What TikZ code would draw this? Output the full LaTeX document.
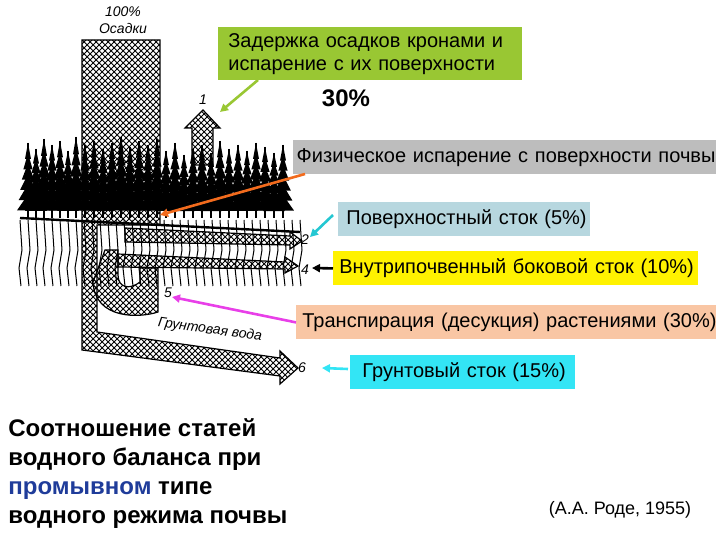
\documentclass[tikz,border=0pt]{standalone}
\usepackage{fontspec}
\setmainfont{Liberation Sans}
\usetikzlibrary{patterns,arrows.meta}
\definecolor{lgreen}{HTML}{99C733}
\definecolor{lgray}{HTML}{BDBDBD}
\definecolor{lblue}{HTML}{B7D7DF}
\definecolor{peach}{HTML}{F9C6A4}
\definecolor{cyanb}{HTML}{33E5F5}
\definecolor{orangea}{HTML}{F26B1D}
\definecolor{magentaa}{HTML}{E83FE8}
\definecolor{bluet}{HTML}{1F3C9A}
\tikzset{
 lbl/.style={font=\fontsize{10}{11.5}\selectfont, inner xsep=0pt, inner ysep=0pt, anchor=north west, align=left, minimum height=17pt},
 hatch/.style={draw=black, line width=0.6pt, pattern=crosshatch},
 pt/.style={-{Triangle[length=4pt,width=4pt]}, line width=1.3pt},
 sketch/.style={font=\itshape\fontsize{7}{7.5}\selectfont, inner sep=0pt},
}
\begin{document}
\begin{tikzpicture}[x=0.5pt,y=-0.5pt]
\useasboundingbox (0,0) rectangle (720,540);
% main hatched column and groundwater arrow
\path[hatch] (82,40)--(160,40)--(160,225)--(97,225)--(97,332)--(280,358)--(280,351)--(298,368)--(280,384)--(280,376)--(82,350)--cycle;
% arrow 1
\path[hatch] (192,165)--(192,128)--(185,128)--(203,110)--(220,128)--(213,128)--(213,165)--cycle;
% U shape 5
\path[hatch] (93,282) .. controls (95,320) and (140,318) .. (158,312) -- (158,268) -- (140,268) -- (140,282) .. controls (130,290) and (118,288) .. (118,275) -- (118,250) -- (105,250) -- cycle;
% arrow 4
\path[hatch] (118,254)--(285,262)--(285,257)--(298,266)--(285,273)--(285,269)--(118,267)--cycle;
% arrow 2
\path[hatch] (125,228)--(290,236)--(290,232)--(302,241)--(290,249)--(290,245)--(125,242)--cycle;
% roots
\foreach \x in {20,28,...,300}{
  \draw[line width=0.5pt] (\x,220) -- (\x+2,250) -- (\x-1,268) -- (\x+1,286);
}
% trees
\foreach \x/\h in {28/72,36/66,44/76,52/70,60/74,68/64,76/78,85/70,94/74,103/66,112/72,121/78,130/68,139/74,148/70,157/76,166/64,175/72,184/60,193/66,202/70,211/62,220/74,229/66,238/70,247/64,256/72,265/68,274/62,283/70}{
  \foreach \k in {0,...,5}{
    \fill (\x,215-\h+\k*\h/7) -- (\x-3-\k*1.6,215-\h+\k*\h/7+\h/4.5) -- (\x+3+\k*1.6,215-\h+\k*\h/7+\h/4.5) -- cycle;
  }
  \draw[line width=0.8pt] (\x,215-\h) -- (\x,218);
}
\draw[line width=1.2pt] (20,218) -- (300,232);
% sketch labels
\node[sketch] (p100) at (123,12) {100\%};
\node[sketch] (osad) at (123,28) {Осадки};
\node[sketch] (n1) at (203,100) {1};
\node[sketch] (n2) at (305,240) {2};
\node[sketch] (n4) at (305,270) {4};
\node[sketch] (n5) at (168,293) {5};
\node[sketch] (n6) at (302,368) {6};
\node[sketch, rotate=-8] (gv) at (210,330) {Грунтовая вода};
% label boxes
\node[lbl, fill=lgreen, text width=142pt, minimum height=26.5pt, inner xsep=5pt] (b1) at (218,27) {\mbox{Задержка осадков кронами и}\\\mbox{испарение с их поверхности}};
\node[font=\bfseries\fontsize{12}{13}\selectfont] (p30) at (346,98) {30\%};
\node[lbl, fill=lgray, text width=211.5pt] (b2) at (293,140) {\mbox{\,Физическое испарение с поверхности почвы}};
\node[lbl, fill=lblue, text width=126pt] (b3) at (338,202) {\mbox{\hspace{4pt}Поверхностный сток (5\%)}};
\node[lbl, fill=yellow, text width=182.5pt] (b4) at (333,251) {\mbox{\hspace{3pt}Внутрипочвенный боковой сток (10\%)}};
\node[lbl, fill=peach, text width=210pt] (b5) at (296,305) {\mbox{\hspace{3pt}Транспирация (десукция) растениями (30\%)}};
\node[lbl, fill=cyanb, text width=112.5pt] (b6) at (350,355) {\mbox{\hspace{6pt}Грунтовый сток (15\%)}};
% pointer arrows
\coordinate (t1) at (220,112);
\coordinate (t2) at (160,215);
\coordinate (t3) at (310,237);
\coordinate (t4) at (312,268);
\coordinate (t5) at (172,297);
\coordinate (t6) at (322,368);
\draw[pt, lgreen] (258,80) -- (t1);
\draw[pt, orangea] (305,174) -- (t2);
\draw[pt, cyanb!70!teal] (333,215) -- (t3);
\draw[pt, black] (b4.west) -- (t4);
\draw[pt, magentaa] (b5.west) -- (t5);
\draw[pt, cyanb] (348,369) -- (t6);
% bottom texts
\node[font=\bfseries\fontsize{12}{14.5}\selectfont, align=left, anchor=north west, inner sep=0pt] (title) at (8,418) {Соотношение статей\\водного баланса при\\\textcolor{bluet}{промывном} типе\\водного режима почвы};
\node[font=\fontsize{9}{10}\selectfont] (ref) at (620,510) {(А.А. Роде, 1955)};
\end{tikzpicture}
\end{document}
